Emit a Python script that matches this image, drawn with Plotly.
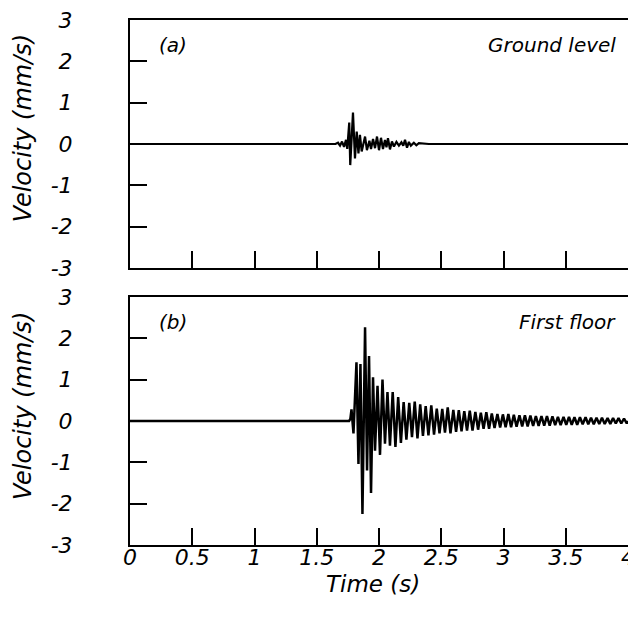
import plotly.graph_objects as go

# ---- Panel (a): ground level (peak/trough points) ----
time_a = [0, 1.650, 1.671, 1.687, 1.703, 1.719, 1.735, 1.745, 1.761, 1.769,
          1.791, 1.807, 1.821, 1.835, 1.847, 1.861, 1.888, 1.903, 1.923, 1.936,
          1.952, 1.968, 1.984, 2.000, 2.016, 2.032, 2.048, 2.060, 2.072, 2.088,
          2.104, 2.120, 2.140, 2.160, 2.180, 2.195, 2.209, 2.225, 2.240, 2.256,
          2.280, 2.300, 2.320, 2.400, 4.0]
vel_a = [0, 0, 0.03, -0.04, 0.06, -0.07, 0.10, -0.12, 0.52, -0.51,
         0.76, -0.35, 0.30, -0.23, 0.22, -0.18, 0.18, -0.15, 0.08, -0.12,
         0.12, -0.10, 0.18, -0.15, 0.15, -0.12, 0.10, -0.08, 0.14, -0.13,
         0.06, -0.06, 0.05, -0.04, 0.04, -0.04, 0.10, -0.09, 0.05, -0.04,
         0.03, -0.03, 0.02, 0, 0]

# ---- Panel (b): first floor ----
onset_t_b = [0, 1.760, 1.770, 1.779, 1.795, 1.819, 1.835, 1.851, 1.867, 1.888,
             1.904, 1.920, 1.936, 1.952, 1.968, 1.988, 2.008, 2.028, 2.048,
             2.068, 2.088]
onset_v_b = [0, 0, 0.05, 0.28, -0.30, 1.42, -1.04, 1.38, -2.25, 2.27,
             -1.20, 1.57, -1.74, 1.06, -0.72, 0.85, -0.82, 1.00, -0.55,
             0.70, -0.60]
peak_t_b = [2.110, 2.154, 2.198, 2.243, 2.287, 2.331, 2.375, 2.420, 2.464, 2.508,
            2.552, 2.597, 2.641, 2.685, 2.729, 2.774, 2.818, 2.862, 2.906, 2.951,
            2.995, 3.039, 3.083, 3.128, 3.172, 3.216, 3.260, 3.305, 3.349, 3.393,
            3.437, 3.482, 3.526, 3.570, 3.614, 3.659, 3.703, 3.747, 3.791, 3.836,
            3.880, 3.924, 3.968]
peak_v_b = [0.70, 0.58, 0.46, 0.44, 0.47, 0.40, 0.36, 0.38, 0.30, 0.29,
            0.33, 0.27, 0.26, 0.24, 0.25, 0.22, 0.20, 0.21, 0.18, 0.17,
            0.16, 0.17, 0.15, 0.14, 0.14, 0.13, 0.12, 0.12, 0.12, 0.11,
            0.10, 0.10, 0.10, 0.09, 0.09, 0.09, 0.08, 0.08, 0.08, 0.07,
            0.07, 0.07, 0.06]
trough_t_b = [2.132, 2.176, 2.220, 2.265, 2.309, 2.353, 2.397, 2.442, 2.486, 2.530,
              2.574, 2.619, 2.663, 2.707, 2.751, 2.796, 2.840, 2.884, 2.928, 2.973,
              3.017, 3.061, 3.105, 3.150, 3.194, 3.238, 3.282, 3.327, 3.371, 3.415,
              3.459, 3.504, 3.548, 3.592, 3.636, 3.681, 3.725, 3.769, 3.813, 3.858,
              3.902, 3.946, 3.990]
trough_v_b = [-0.63, -0.53, -0.45, -0.39, -0.42, -0.36, -0.35, -0.33, -0.30, -0.28,
              -0.30, -0.26, -0.25, -0.23, -0.23, -0.21, -0.19, -0.19, -0.17, -0.16,
              -0.15, -0.15, -0.14, -0.13, -0.13, -0.12, -0.12, -0.11, -0.11, -0.10,
              -0.10, -0.09, -0.09, -0.09, -0.08, -0.08, -0.08, -0.07, -0.07, -0.07,
              -0.06, -0.06, -0.06]

y_ticks = [-3, -2, -1, 0, 1, 2, 3]
y_tick_labels = ["-3", "-2", "-1", "0", "1", "2", "3"]
x_ticks = [0, 0.5, 1, 1.5, 2, 2.5, 3, 3.5, 4]
x_tick_labels = ["0", "0.5", "1", "1.5", "2", "2.5", "3", "3.5", "4"]

# interleave decay peaks/troughs for panel (b)
time_b = list(onset_t_b)
vel_b = list(onset_v_b)
for tp, vp, tt, vt in zip(peak_t_b, peak_v_b, trough_t_b, trough_v_b):
    time_b += [tp, tt]
    vel_b += [vp, vt]
time_b.append(4.0)
vel_b.append(0)

FONT = "DejaVu Sans"
tick_font = dict(family=FONT, size=22, color="black", style="italic")

fig = go.Figure()
fig.add_trace(go.Scatter(x=time_a, y=vel_a, xaxis="x", yaxis="y", mode="lines",
                         line=dict(color="black", width=2.2), showlegend=False))
fig.add_trace(go.Scatter(x=time_b, y=vel_b, xaxis="x2", yaxis="y2", mode="lines",
                         line=dict(color="black", width=2.5), showlegend=False))

axis_common = dict(showline=True, linecolor="black", linewidth=2, mirror=True,
                   ticks="inside", ticklen=17, tickwidth=1.5, tickcolor="black",
                   showgrid=False, zeroline=False, tickfont=tick_font,
                   automargin=False, ticklabeloverflow="allow")

# the page body adds an 8 px offset, so the figure is sized to compensate
fig.update_layout(
    width=628, height=617,
    margin=dict(l=122, r=8, t=12, b=80),
    paper_bgcolor="white", plot_bgcolor="white",
    showlegend=False,
    xaxis=dict(domain=[0, 1], anchor="y", range=[0, 4], tickvals=x_ticks,
               showticklabels=False, **axis_common),
    yaxis=dict(domain=[0.5276, 1], anchor="x", range=[-3, 3], tickvals=y_ticks,
               ticktext=y_tick_labels, ticklabelstandoff=51, **axis_common),
    xaxis2=dict(domain=[0, 1], anchor="y2", range=[0, 4], tickvals=x_ticks,
                ticktext=x_tick_labels, ticklabelstandoff=-8, **axis_common),
    yaxis2=dict(domain=[0, 0.4724], anchor="x2", range=[-3, 3], tickvals=y_ticks,
                ticktext=y_tick_labels, ticklabelstandoff=51, **axis_common),
)

title_font = dict(family=FONT, size=24, color="black", style="italic")
xtitle_font = dict(family=FONT, size=23, color="black", style="italic")
label_font = dict(family=FONT, size=20, color="black", style="italic")

annotations = [
    dict(text="Velocity (mm/s)", x=-0.2149, y=0.794, textangle=-90, font=title_font),
    dict(text="Velocity (mm/s)", x=-0.2149, y=0.2648, textangle=-90, font=title_font),
    dict(text="Time (s)", x=0.488, y=-0.0752, font=xtitle_font),
    dict(text="(a)", x=0.0542, y=0.952, xanchor="left", font=label_font),
    dict(text="Ground level", x=0.98, y=0.952, xanchor="right", font=label_font),
    dict(text="(b)", x=0.0542, y=0.4248, xanchor="left", font=label_font),
    dict(text="First floor", x=0.98, y=0.4248, xanchor="right", font=label_font),
]
for a in annotations:
    a.update(xref="paper", yref="paper", showarrow=False)
    a.setdefault("xanchor", "center")
    a.setdefault("yanchor", "middle")
fig.update_layout(annotations=annotations)

fig.write_html("out.html")
